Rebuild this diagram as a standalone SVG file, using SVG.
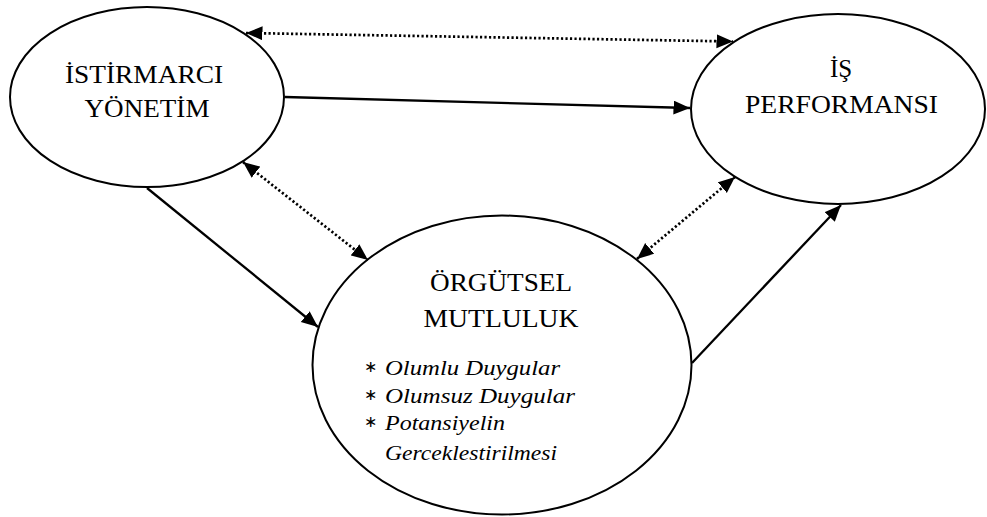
<svg xmlns="http://www.w3.org/2000/svg" width="987" height="517" viewBox="0 0 987 517">
<style>
.node{fill:#fff;stroke:#000;stroke-width:2}
.lbl{font-family:"Liberation Serif","DejaVu Serif",serif;font-size:25px;fill:#000;text-anchor:middle}
.it{font-family:"Liberation Serif","DejaVu Serif",serif;font-size:22px;font-style:italic;fill:#000}
.ast{font-family:"DejaVu Sans","Liberation Sans",sans-serif;font-size:16px;fill:#000}
.solid{fill:none;stroke:#000;stroke-width:2.3}
.dot{fill:none;stroke:#000;stroke-width:2.7;stroke-dasharray:2.2 2.3}
</style>
<defs>
<marker id="ah" markerUnits="userSpaceOnUse" markerWidth="18" markerHeight="15" refX="16.5" refY="7" orient="auto-start-reverse" viewBox="0 0 18 15">
<path d="M0,0 L16.5,7 L0,14 z" fill="#000"/>
</marker>
</defs>
<rect width="987" height="517" fill="#fff"/>
<g id="istirmarci">
<ellipse class="node" cx="147" cy="97" rx="137" ry="90"/>
<text class="lbl" x="144" y="83" textLength="158" lengthAdjust="spacingAndGlyphs">İSTİRMARCI</text>
<text class="lbl" x="147" y="117" textLength="125" lengthAdjust="spacingAndGlyphs">YÖNETİM</text>
</g>
<g id="performans">
<ellipse class="node" cx="838" cy="109" rx="147" ry="95"/>
<text class="lbl" x="841" y="77">İŞ</text>
<text class="lbl" x="841.5" y="113" textLength="193" lengthAdjust="spacingAndGlyphs">PERFORMANSI</text>
</g>
<g id="mutluluk">
<ellipse class="node" cx="502" cy="365" rx="189.5" ry="149.5"/>
<text class="lbl" x="501" y="291" textLength="142" lengthAdjust="spacingAndGlyphs">ÖRGÜTSEL</text>
<text class="lbl" x="501" y="327" textLength="155" lengthAdjust="spacingAndGlyphs">MUTLULUK</text>
<text class="ast" x="364" y="372">∗</text>
<text class="it" x="385" y="375" textLength="175" lengthAdjust="spacingAndGlyphs">Olumlu Duygular</text>
<text class="ast" x="364" y="400">∗</text>
<text class="it" x="385" y="403" textLength="190" lengthAdjust="spacingAndGlyphs">Olumsuz Duygular</text>
<text class="ast" x="364" y="427">∗</text>
<text class="it" x="385" y="430" textLength="120" lengthAdjust="spacingAndGlyphs">Potansiyelin</text>
<text class="it" x="385" y="460" textLength="172" lengthAdjust="spacingAndGlyphs">Gerceklestirilmesi</text>
</g>
<g id="connectors">
<line class="dot" x1="246" y1="33" x2="733" y2="41.5" marker-start="url(#ah)" marker-end="url(#ah)"/>
<line class="solid" x1="285" y1="97" x2="690" y2="108" marker-end="url(#ah)"/>
<line class="dot" x1="243" y1="162" x2="368" y2="260" marker-start="url(#ah)" marker-end="url(#ah)"/>
<line class="dot" x1="637" y1="259" x2="735" y2="177" marker-start="url(#ah)" marker-end="url(#ah)"/>
<line class="solid" x1="147" y1="188" x2="318" y2="327" marker-end="url(#ah)"/>
<line class="solid" x1="692" y1="363" x2="841" y2="205" marker-end="url(#ah)"/>
</g>
</svg>
